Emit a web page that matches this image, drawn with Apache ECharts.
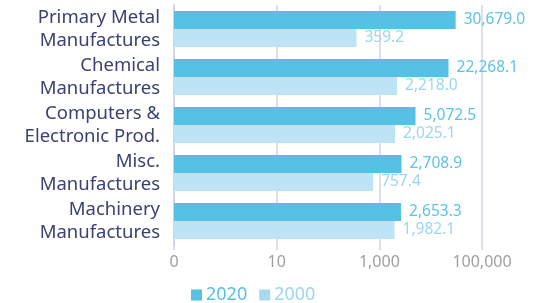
<!DOCTYPE html>
<html>
<head>
<meta charset="utf-8">
<script src="https://cdn.jsdelivr.net/npm/echarts@6/dist/echarts.min.js"></script>
<style>
  html, body { margin: 0; padding: 0; background: #fff; }
  #chart { width: 540px; height: 303px; }
</style>
</head>
<body>
<div id="chart"></div>
<script>
var categories = ['Primary Metal\nManufactures', 'Chemical\nManufactures', 'Computers &\nElectronic Prod.', 'Misc.\nManufactures', 'Machinery\nManufactures'];
var values2020 = [30679.0, 22268.1, 5072.5, 2708.9, 2653.3];
var values2000 = [359.2, 2218.0, 2025.1, 757.4, 1982.1];

function fmt(v) {
    return v.toLocaleString('en-US', { minimumFractionDigits: 1, maximumFractionDigits: 1 });
}

var myChart = echarts.init(document.getElementById('chart'));
var font = 'Noto Sans';
var option = {
    animation: false,
    grid: { left: 174, right: 58, top: 5, bottom: 58, containLabel: false },
    legend: {
        data: [
            { name: '2020', textStyle: { color: '#57c1e5' } },
            { name: '2000', textStyle: { color: '#9dd6ee' }, itemStyle: { color: '#a6daf0' } }
        ],
        left: 186,
        top: 281,
        itemWidth: 11,
        itemHeight: 11,
        itemGap: 12,
        icon: 'rect',
        textStyle: { fontFamily: font, fontSize: 18, padding: [0, 0, 0, -1] }
    },
    xAxis: {
        type: 'log',
        min: 0.1,
        max: 100000,
        startValue: 0.1,
        interval: 2,
        axisLine: { show: false },
        axisTick: { show: true, length: 5, lineStyle: { color: '#d6d2e6', width: 1.5 } },
        splitLine: { show: true, lineStyle: { color: '#d6d2e6', width: 1.5 } },
        axisLabel: {
            color: '#a0a0a0',
            fontFamily: font,
            fontSize: 16,
            margin: 9,
            formatter: function (v) {
                if (v < 1) return '0';
                return Math.round(v).toLocaleString('en-US');
            }
        }
    },
    yAxis: {
        type: 'category',
        data: categories,
        inverse: true,
        axisLine: { show: true, lineStyle: { color: '#d6d2e6', width: 2 } },
        axisTick: { show: false },
        axisLabel: {
            color: '#3b4170',
            fontFamily: font,
            fontSize: 18.5,
            lineHeight: 22.5,
            align: 'right',
            margin: 14
        }
    },
    series: [
        {
            name: '2020',
            type: 'bar',
            data: values2020,
            barWidth: 18,
            barGap: '0%',
            itemStyle: { color: '#57c1e5' },
            label: {
                show: true,
                position: 'right',
                distance: 8,
                color: '#5ec3e6',
                fontFamily: font,
                fontSize: 15.5,
                formatter: function (p) { return fmt(p.value); }
            }
        },
        {
            name: '2000',
            type: 'bar',
            data: values2000,
            barWidth: 18,
            barGap: '0%',
            itemStyle: { color: '#bde4f4' },
            label: {
                show: true,
                position: 'right',
                distance: 8,
                color: '#9dd6ee',
                fontFamily: font,
                fontSize: 15.5,
                formatter: function (p) { return fmt(p.value); }
            }
        }
    ]
};
myChart.setOption(option);
</script>
</body>
</html>
